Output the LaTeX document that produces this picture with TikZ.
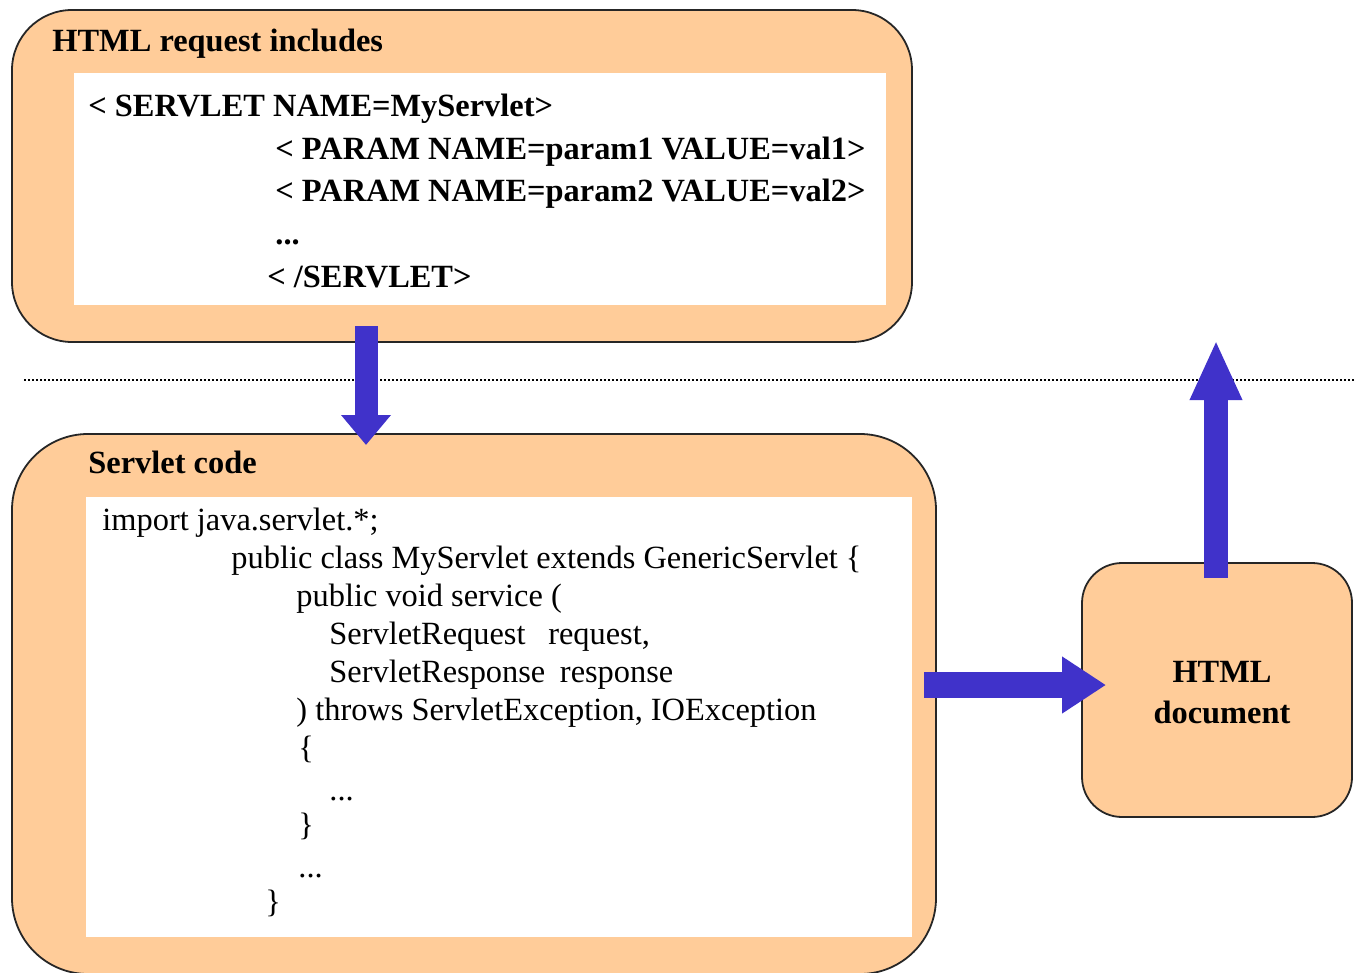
\documentclass[tikz,border=0pt]{standalone}
\usepackage{fontspec}
\setmainfont{Liberation Serif}
\usetikzlibrary{arrows.meta,positioning}

\definecolor{peach}{RGB}{255,204,153}
\definecolor{arrowblue}{RGB}{64,50,202}

\tikzset{
  box/.style={draw=black!85, line width=0.9pt, fill=peach, inner sep=0pt, outer sep=0pt},
  inner/.style={fill=white, inner sep=0pt, outer sep=0pt},
  txt/.style={anchor=base west, inner sep=0pt, font=\fontsize{16.2}{18}\selectfont},
  btxt/.style={txt, font=\fontsize{16.2}{18}\selectfont\bfseries},
  bigarrow/.style={draw=arrowblue, line width=#1}
}

\begin{document}
\begin{tikzpicture}[x=0.5pt,y=-0.5pt]
\useasboundingbox (0,0) rectangle (1354,973);

\node[box, rounded corners=30pt, minimum width=450pt, minimum height=166pt](reqbox) at (462,176) {};
\node[inner, minimum width=406pt, minimum height=116pt](reqin) at (480,189) {};
\node[box, rounded corners=38pt, minimum width=462pt, minimum height=270pt](codebox) at (474,704) {};
\node[inner, minimum width=413pt, minimum height=220pt](codein) at (499,717) {};
\node[box, rounded corners=20pt, minimum width=135pt, minimum height=127pt](docbox) at (1217,690) {};

\draw[line width=0.9pt, dash pattern=on 1pt off 1pt] (24,380) -- (1354,380);

\node[btxt](reqtitle) at (52,52) {HTML request includes};
\node[btxt](r1) at (88,117) {< SERVLET NAME=MyServlet>};
\node[btxt](r2) at (275,160) {< PARAM NAME=param1 VALUE=val1>};
\node[btxt](r3) at (275,202) {< PARAM NAME=param2 VALUE=val2>};
\node[btxt](r4) at (275,245) {...};
\node[btxt](r5) at (267,287) {< /SERVLET>};

\node[btxt](codetitle) at (88,473) {Servlet code};
\node[txt](c1) at (102,530) {import java.servlet.*;};
\node[txt](c2) at (231,568) {public class MyServlet extends GenericServlet \{};
\node[txt](c3) at (296,606) {public void service (};
\node[txt](c4) at (329,644) {ServletRequest\hspace{0.7em}request,};
\node[txt](c5) at (329,682) {ServletResponse\hspace{0.45em}response};
\node[txt](c6) at (296,720) {) throws ServletException, IOException};
\node[txt](c7) at (298,758) {\{};
\node[txt](c8) at (329,800) {...};
\node[txt](c9) at (298,835) {\}};
\node[txt](c10) at (298,877) {...};
\node[txt](c11) at (265,912) {\}};

\node[btxt, anchor=base](doc1) at (1222,682) {HTML};
\node[btxt, anchor=base](doc2) at (1222,723) {document};

\coordinate (downstart) at (366,326);
\coordinate (downend) at (366,445);
\coordinate (rightstart) at (924,685);
\coordinate (rightend) at (1106,685);
\coordinate (upstart) at (1216,578);
\coordinate (upend) at (1216,340);

\draw[bigarrow=11.5pt, -{Triangle[width=24pt,length=15pt]}, arrowblue] (downstart) -- (downend);
\draw[bigarrow=13pt, -{Triangle[width=27pt,length=22pt]}, arrowblue] (rightstart) -- (rightend);
\draw[bigarrow=12pt, -{Triangle[width=24pt,length=30pt]}, arrowblue] (upstart) -- (upend);
\end{tikzpicture}
\end{document}
